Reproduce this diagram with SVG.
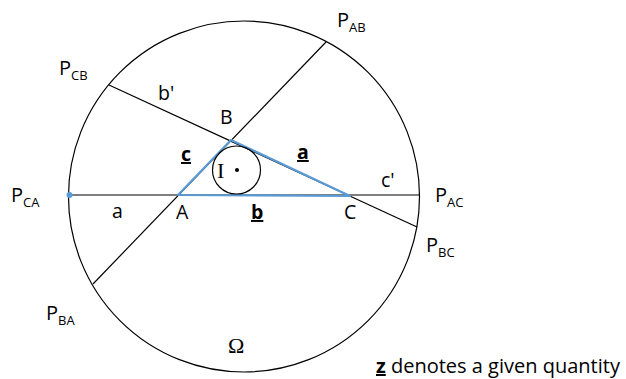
<svg xmlns="http://www.w3.org/2000/svg" width="626" height="379" viewBox="0 0 626 379">
<style>
.ln{stroke:#000;stroke-width:1.2;fill:none}
.tri{stroke:#5B9BD5;stroke-width:2.2;fill:none;stroke-linejoin:round}
text{font-family:"Open Sans","Noto Sans",sans-serif;fill:#000}
.lb{font-size:19.5px}
.p{font-size:20px}
.s{font-size:13px}
.g{font-weight:bold;text-decoration:underline}
.sf{font-family:"Liberation Serif","DejaVu Serif",serif;font-size:22px}
</style>
<rect width="626" height="379" fill="#fff"/>
<g id="circumcircle">
<circle cx="244" cy="196.5" r="175.5" class="ln"/>
<text class="sf" x="228" y="353">Ω</text>
</g>
<g id="connectors">
<line class="ln" x1="69" y1="195" x2="419.5" y2="195"/>
<line class="ln" x1="93" y1="284" x2="326" y2="42"/>
<line class="ln" x1="109" y1="85" x2="417" y2="227"/>
</g>
<g id="triangle">
<polygon class="tri" points="178,195 231,140 350,196"/>
</g>
<g id="incircle">
<circle cx="236.5" cy="170" r="24" class="ln"/>
<circle cx="237" cy="170" r="2" fill="#000"/>
<text class="sf" x="217" y="178">I</text>
</g>
<g id="P_CA">
<circle cx="69.5" cy="195" r="3" fill="#5B9BD5"/>
<text class="p" x="11" y="202">P<tspan class="s" dy="5">CA</tspan></text>
</g>
<g id="P_CB"><text class="p" x="59" y="75">P<tspan class="s" dy="5">CB</tspan></text></g>
<g id="P_AB"><text class="p" x="337" y="27">P<tspan class="s" dy="5">AB</tspan></text></g>
<g id="P_AC"><text class="p" x="435" y="202">P<tspan class="s" dy="5">AC</tspan></text></g>
<g id="P_BC"><text class="p" x="426" y="252">P<tspan class="s" dy="5">BC</tspan></text></g>
<g id="P_BA"><text class="p" x="46" y="320">P<tspan class="s" dy="5">BA</tspan></text></g>
<g id="A"><text class="lb" x="176" y="219">A</text></g>
<g id="B"><text class="lb" x="220" y="124">B</text></g>
<g id="C"><text class="lb" x="344" y="219">C</text></g>
<g id="labels">
<text class="lb" x="158" y="100">b'</text>
<text class="lb" x="381" y="187">c'</text>
<text class="lb" x="112" y="218">a</text>
<text class="lb g" x="181" y="161">c</text>
<text class="lb g" x="297" y="159">a</text>
<text class="lb g" x="251" y="219">b</text>
</g>
<g id="note"><text x="376" y="373" style="font-size:20px"><tspan class="g">z</tspan> denotes a given quantity</text></g>
</svg>
